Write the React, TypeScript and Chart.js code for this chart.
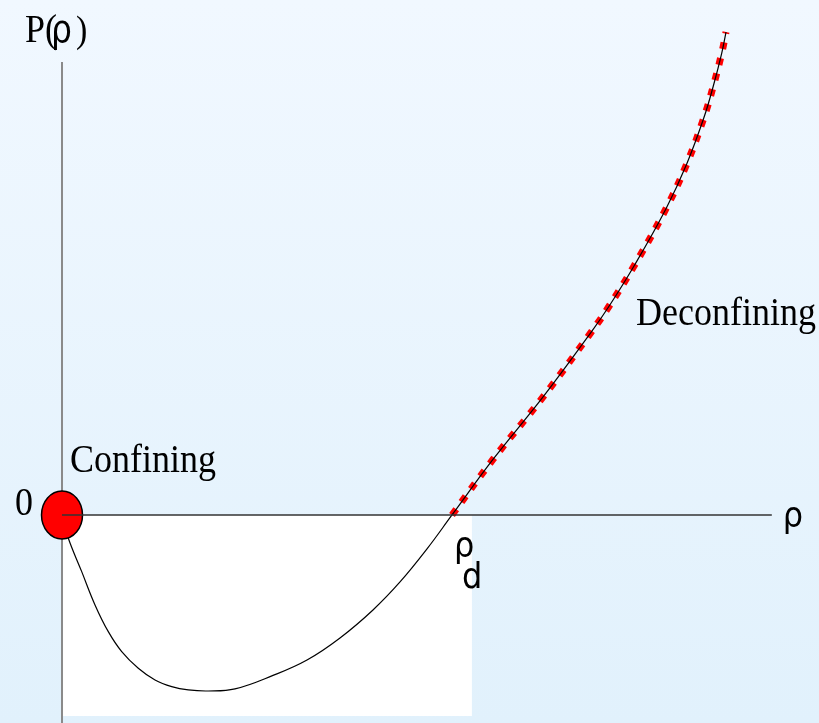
import React, { useEffect, useRef } from "react";
import { Chart, registerables } from "chart.js";

Chart.register(...registerables);

// Confining branch: density ρ (in units of ρ_d) and pressure P(ρ)
const curveRho = [0, 0.0162, 0.0505, 0.0846, 0.1187, 0.1531, 0.1956, 0.2385, 0.2813, 0.3239, 0.3751, 0.4436, 0.541, 0.6282, 0.7128, 0.7974, 0.8667, 0.9359, 1.0];
const curvePressure = [0, -0.133, -0.324, -0.514, -0.667, -0.781, -0.876, -0.943, -0.981, -1.0, -1.006, -0.994, -0.917, -0.829, -0.703, -0.543, -0.383, -0.194, 0];

// Deconfining branch (highlighted)
const deconfRho = [1.0, 1.106, 1.234, 1.356, 1.403, 1.4667, 1.5487, 1.6018, 1.6462, 1.67, 1.6915, 1.7026];
const deconfPressure = [0, 0.32, 0.676, 1.042, 1.194, 1.4229, 1.7503, 2.0057, 2.2726, 2.4514, 2.6383, 2.76];

// Text labels
const yAxisLabel = ["P(", "ρ", ")"];
const xAxisLabel = "ρ";
const originLabel = "0";
const criticalLabel = ["ρ", "d"];
const confiningLabel = "Confining";
const deconfiningLabel = "Deconfining";

// Axis extents (data units)
const rhoMin = -0.159;
const rhoMax = 1.941;
const pMin = -1.189;
const pMax = 2.943;
const xAxisEnd = 1.82;
const yAxisTop = 2.589;
const regionRhoMax = 1.051;
const regionPMin = -1.149;

const toPoints = (xs: number[], ys: number[]) => xs.map((x, i) => ({ x, y: ys[i] }));

const stretched = (
  ctx: CanvasRenderingContext2D,
  text: string,
  x: number,
  y: number,
  font: string,
  align: CanvasTextAlign = "left"
) => {
  ctx.save();
  ctx.font = font;
  ctx.textAlign = align;
  ctx.textBaseline = "alphabetic";
  ctx.fillStyle = "#000";
  ctx.translate(x, y);
  ctx.scale(1, 1.13);
  ctx.fillText(text, 0, 0);
  ctx.restore();
};

const decorPlugin = {
  id: "decor",
  beforeDraw(chart: any) {
    const { ctx, width, height } = chart;
    const g = ctx.createLinearGradient(0, 0, 0, height);
    g.addColorStop(0, "#f1f8ff");
    g.addColorStop(1, "#e1f1fc");
    ctx.save();
    ctx.fillStyle = g;
    ctx.fillRect(0, 0, width, height);
    ctx.restore();
  },
  beforeDatasetsDraw(chart: any) {
    const { ctx, height } = chart;
    const xs = chart.scales.x;
    const ys = chart.scales.y;
    const ox = xs.getPixelForValue(0);
    const oy = ys.getPixelForValue(0);
    ctx.save();
    ctx.fillStyle = "#ffffff";
    const rx = xs.getPixelForValue(regionRhoMax);
    const ry = ys.getPixelForValue(regionPMin);
    ctx.fillRect(ox, oy, rx - ox, ry - oy);
    ctx.strokeStyle = "#8a8a8a";
    ctx.lineWidth = 2;
    ctx.beginPath();
    ctx.moveTo(ox, ys.getPixelForValue(yAxisTop));
    ctx.lineTo(ox, height);
    ctx.stroke();
    ctx.restore();
  },
  afterDatasetsDraw(chart: any) {
    const { ctx } = chart;
    const xs = chart.scales.x;
    const ys = chart.scales.y;
    const ox = xs.getPixelForValue(0);
    const oy = ys.getPixelForValue(0);
    ctx.save();
    ctx.beginPath();
    ctx.ellipse(ox, oy, 20.5, 24, 0, 0, Math.PI * 2);
    ctx.fillStyle = "#ff0000";
    ctx.fill();
    ctx.lineWidth = 1.5;
    ctx.strokeStyle = "#000";
    ctx.stroke();
    ctx.beginPath();
    ctx.strokeStyle = "#333";
    ctx.lineWidth = 1.5;
    ctx.moveTo(ox, oy);
    ctx.lineTo(xs.getPixelForValue(xAxisEnd), oy);
    ctx.stroke();
    ctx.restore();

    const serif = "36px 'Liberation Serif'";
    const sans = "32px 'DejaVu Sans'";
    const rhoX = xs.getPixelForValue(1);
    stretched(ctx, yAxisLabel[0], ox - 37, 42, serif);
    stretched(ctx, yAxisLabel[1], ox - 11, 42, "33px 'DejaVu Sans'");
    stretched(ctx, yAxisLabel[2], ox + 14, 42, "34px 'Liberation Serif'");
    stretched(ctx, originLabel, ox - 29, oy, serif, "right");
    stretched(ctx, confiningLabel, ox + 8, oy - 43, serif);
    stretched(ctx, deconfiningLabel, 636, ys.getPixelForValue(1.086), serif);
    stretched(ctx, xAxisLabel, xs.getPixelForValue(xAxisEnd) + 11, oy + 12, sans);
    stretched(ctx, criticalLabel[0], rhoX + 2, oy + 42, sans);
    stretched(ctx, criticalLabel[1], rhoX + 10, oy + 73, sans);
  },
};

export default function App() {
  const ref = useRef<HTMLCanvasElement | null>(null);
  useEffect(() => {
    if (!ref.current) return;
    const chart = new Chart(ref.current, {
      type: "scatter",
      data: {
        datasets: [
          {
            data: toPoints(deconfRho, deconfPressure),
            showLine: true,
            borderColor: "#ff0000",
            borderWidth: 7,
            borderDash: [7, 9],
            borderCapStyle: "butt",
            pointRadius: 0,
            tension: 0.4,
            order: 2,
            clip: false,
          } as any,
          {
            data: toPoints(curveRho.concat(deconfRho.slice(1)), curvePressure.concat(deconfPressure.slice(1))),
            showLine: true,
            borderColor: "#000000",
            borderWidth: 1.2,
            pointRadius: 0,
            tension: 0.4,
            order: 1,
            clip: false,
          } as any,
        ],
      },
      options: {
        animation: false,
        responsive: false,
        devicePixelRatio: 1,
        layout: { padding: 0 },
        plugins: { legend: { display: false }, tooltip: { enabled: false } },
        scales: {
          x: { type: "linear", min: rhoMin, max: rhoMax, display: false },
          y: { type: "linear", min: pMin, max: pMax, display: false },
        },
      },
      plugins: [decorPlugin],
    });
    return () => chart.destroy();
  }, []);
  return (
    <div style={{ position: "fixed", left: 0, top: 0, width: 819, height: 723 }}>
      <canvas ref={ref} width={819} height={723} style={{ display: "block" }} />
    </div>
  );
}
